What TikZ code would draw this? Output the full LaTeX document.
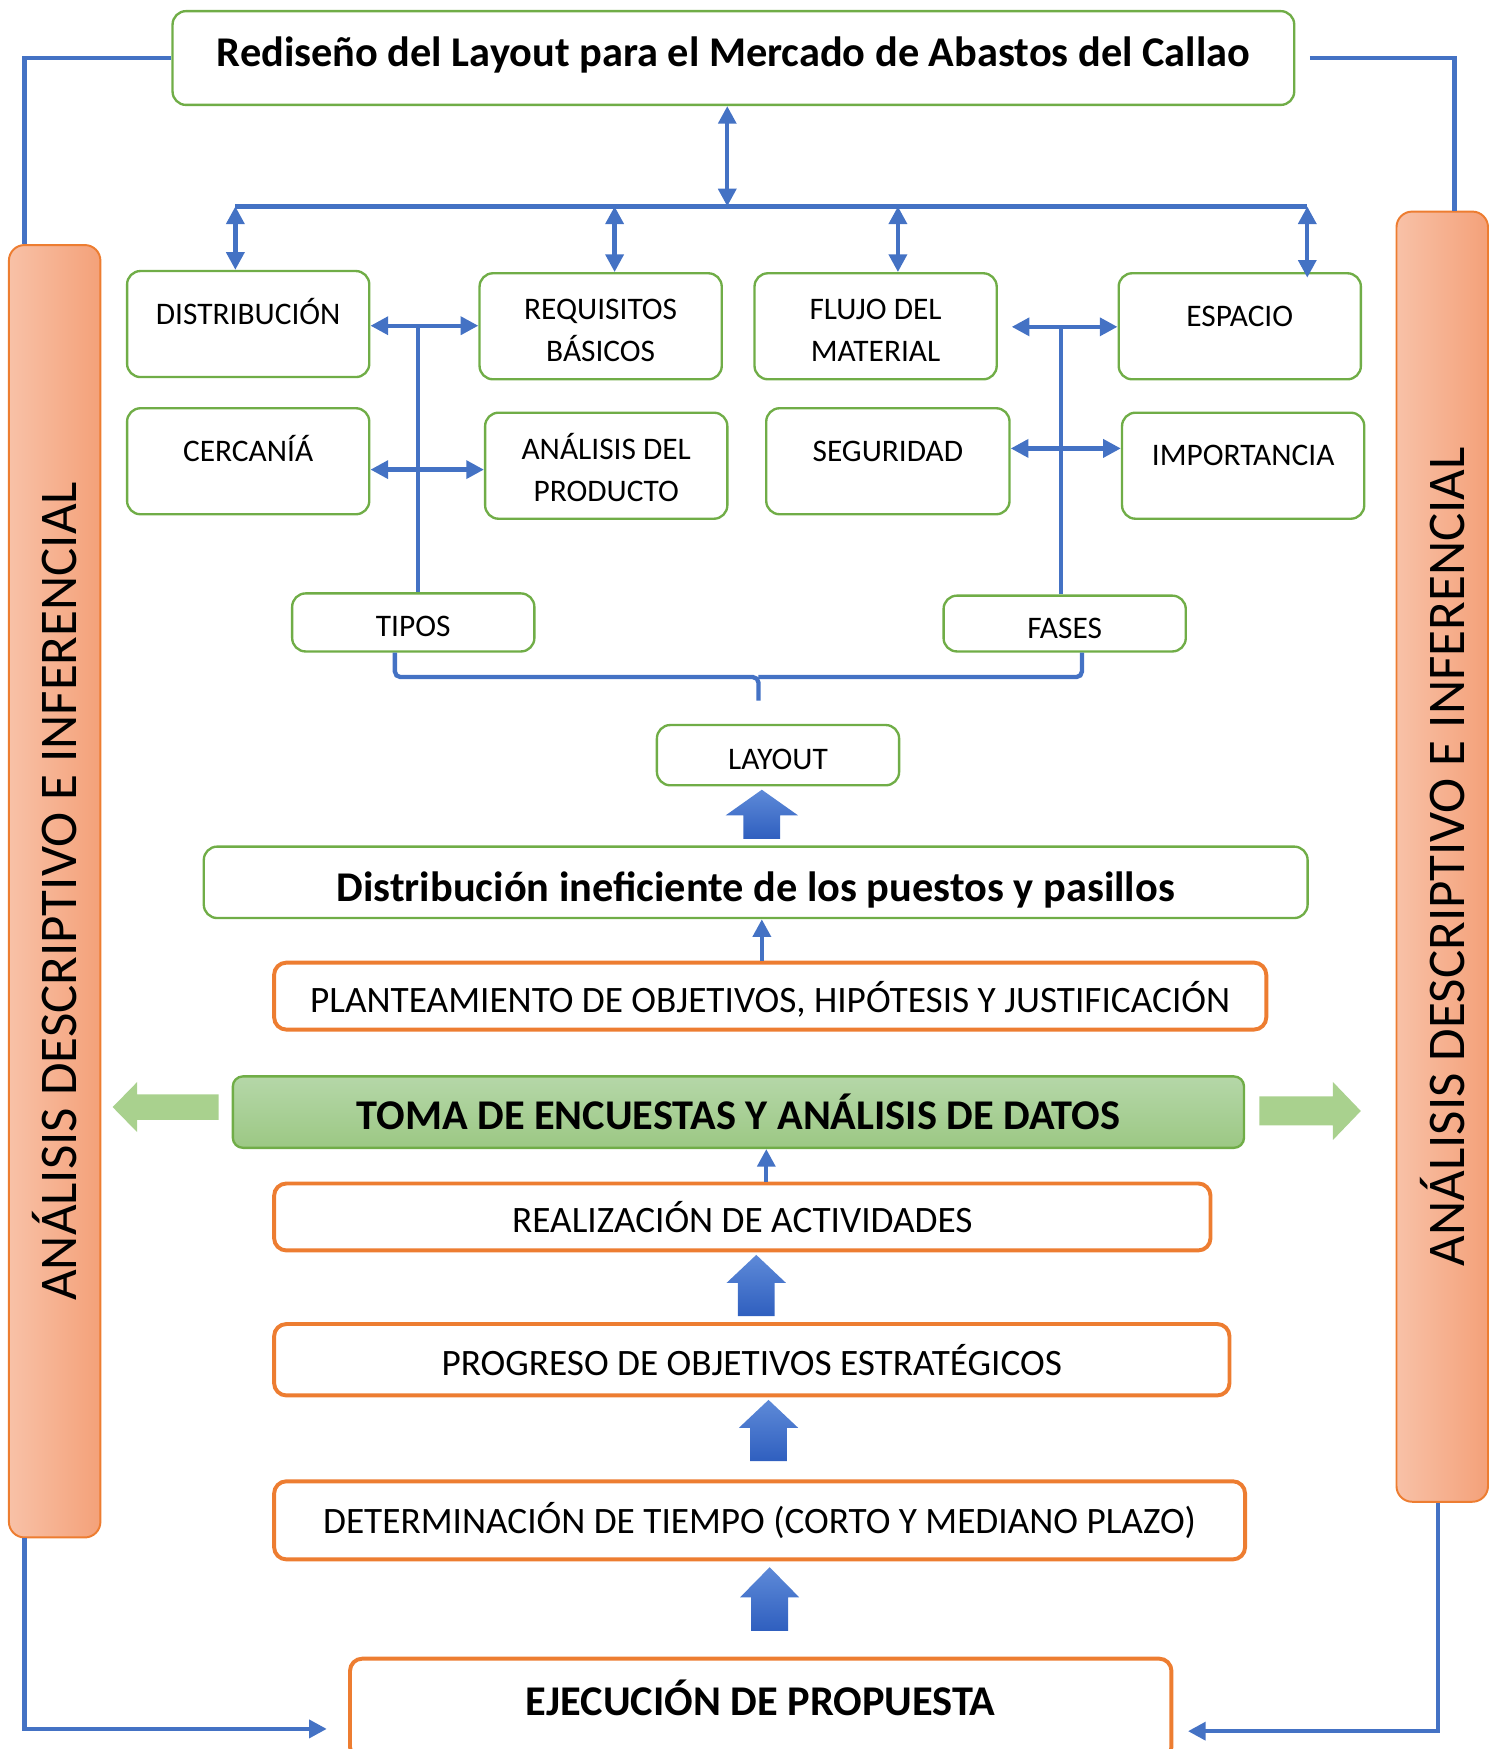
\documentclass[tikz,border=0pt]{standalone}
\usepackage{fontspec}
\setmainfont{Carlito}
\usetikzlibrary{arrows.meta}

\definecolor{grnline}{HTML}{70AD47}
\definecolor{orgline}{HTML}{ED7D31}
\definecolor{blueln}{HTML}{4472C4}
\definecolor{barL}{HTML}{F8C1A7}
\definecolor{barR}{HTML}{F4A179}
\definecolor{tomaT}{HTML}{B5D7A8}
\definecolor{tomaB}{HTML}{9CC884}
\definecolor{grnarr}{HTML}{A9D18E}
\definecolor{blkT}{HTML}{5E8AD8}
\definecolor{blkB}{HTML}{2F5FBF}

\begin{document}
\begin{tikzpicture}[x=0.01cm, y=-0.01cm,
    gbox/.style={draw=grnline, line width=0.6pt, rounded corners=0.12cm, align=center, minimum width=2.17cm, minimum height=0.95cm, font=\fontsize{8}{10.8}\selectfont},
    onel/.style={text height=5pt, text depth=5pt},
    twol/.style={text height=18.2pt, text depth=0pt},
    lowt/.style={text height=7.4pt, text depth=0pt},
    obox/.style={draw=orgline, line width=1pt, rounded corners=0.11cm, minimum height=0.6cm, font=\fontsize{9.5}{12}\selectfont},
    sidebar/.style={draw=orgline, line width=0.5pt, rounded corners=0.14cm, left color=barL, right color=barR, minimum width=0.82cm, font=\fontsize{13.5}{16}\selectfont},
    link/.style={draw=blueln, line width=1.1pt},
    dbl/.style={link, {Triangle[length=4.5pt,width=4.5pt]}-{Triangle[length=4.5pt,width=4.5pt]}},
    sarr/.style={link, -{Triangle[length=4.5pt,width=4.5pt]}},
    blk/.style={top color=blkT, bottom color=blkB},
    garr/.style={fill=grnarr}
]
    \useasboundingbox (0,0) rectangle (1346,1568);

    % title and feedback frame
    \node[gbox, minimum width=10.05cm, minimum height=0.84cm, text height=7pt, text depth=2.7pt, font=\fontsize{10.8}{13}\selectfont\bfseries] (title) at (657.5,52) {Rediseño del Layout para el Mercado de Abastos del Callao};

    \node[sidebar, minimum height=11.58cm] (lbar) at (49,799) {\rotatebox{90}{ANÁLISIS DESCRIPTIVO E INFERENCIAL}};
    \node[sidebar, minimum height=11.56cm] (rbar) at (1293,768) {\rotatebox{90}{ANÁLISIS DESCRIPTIVO E INFERENCIAL}};

    % upper boxes
    \node[gbox, onel] (dist) at (222.5,290.5) {DISTRIBUCIÓN};
    \node[gbox, twol] (req) at (538.5,292.5) {REQUISITOS\\BÁSICOS};
    \node[gbox, twol] (flujo) at (785,292.5) {FLUJO DEL\\MATERIAL};
    \node[gbox, onel] (esp) at (1111.5,292.5) {ESPACIO};
    \node[gbox, onel] (cerc) at (222.5,413.5) {CERCANÍÁ};
    \node[gbox, twol] (anal) at (543.5,417.5) {ANÁLISIS DEL\\PRODUCTO};
    \node[gbox, onel, minimum width=2.18cm] (seg) at (796,413.5) {SEGURIDAD};
    \node[gbox, onel] (imp) at (1114.5,417.5) {IMPORTANCIA};

    \node[gbox, lowt, minimum height=0.52cm] (tipos) at (370.5,558) {TIPOS};
    \node[gbox, lowt, minimum height=0.50cm] (fases) at (954.5,559) {FASES};
    \node[gbox, lowt, minimum height=0.54cm] (layout) at (697.5,677) {LAYOUT};

    % main column
    \node[gbox, minimum width=9.89cm, minimum height=0.64cm, text height=10pt, text depth=0pt, font=\fontsize{10.8}{13}\selectfont\bfseries] (dist2) at (677.5,791) {Distribución ineficiente de los puestos y pasillos};
    \node[obox, minimum width=8.89cm, text height=8.4pt, text depth=0pt] (plan) at (690.5,893) {PLANTEAMIENTO DE OBJETIVOS, HIPÓTESIS Y JUSTIFICACIÓN};
    \node[draw=grnline, line width=0.6pt, rounded corners=0.09cm, top color=tomaT, bottom color=tomaB, minimum width=9.06cm, minimum height=0.64cm, font=\fontsize{10.8}{13}\selectfont\bfseries] (toma) at (662,997) {TOMA DE ENCUESTAS Y ANÁLISIS DE DATOS};
    \node[obox, minimum width=8.39cm] (real) at (665.5,1091) {REALIZACIÓN DE ACTIVIDADES};
    \node[obox, minimum width=8.56cm, minimum height=0.64cm] (prog) at (674,1219) {PROGRESO DE OBJETIVOS ESTRATÉGICOS};
    \node[obox, minimum width=8.70cm, minimum height=0.70cm] (det) at (681,1363) {DETERMINACIÓN DE TIEMPO (CORTO Y MEDIANO PLAZO)};
    \node[obox, minimum width=7.36cm, minimum height=0.90cm, text height=7pt, text depth=3.4pt, font=\fontsize{10.8}{13}\selectfont\bfseries] (ejec) at (682,1532) {EJECUCIÓN DE PROPUESTA};

    % bus under the title
    \coordinate (bus0) at (652,185);
    \coordinate (b1) at (211,185);
    \coordinate (b2) at (551,185);
    \coordinate (b3) at (805,185);
    \coordinate (b4) at (1172,185);
    \draw[link] (b1) -- (b4);
    \draw[dbl] (title.south -| bus0) -- (bus0);
    \draw[dbl] (b1) -- (b1 |- dist.north);
    \draw[dbl] (b2) -- (b2 |- req.north);
    \draw[dbl] (b3) -- (b3 |- flujo.north);
    \draw[dbl] (b4) -- ([yshift=-0.05cm]b4 |- esp.north);

    % tipos and fases links
    \coordinate (tj) at (375,292);
    \coordinate (tk) at (375,421);
    \coordinate (fj) at (951,293);
    \coordinate (fk) at (951,402);
    \coordinate (fa) at (907,293);
    \draw[dbl] (dist.east |- tj) -- (req.west |- tj);
    \draw[dbl] (cerc.east |- tk) -- (anal.west |- tk);
    \draw[link] (tipos.north -| tj) -- (tj);
    \draw[dbl] (fa) -- (esp.west |- fj);
    \draw[dbl] (seg.east |- fk) -- (imp.west |- fk);
    \draw[link] (fases.north -| fj) -- (fj);

    % brace towards layout
    \coordinate (bl) at (354,0);
    \coordinate (br) at (970,0);
    \coordinate (bc) at (680,607);
    \coordinate (bt) at (680,628);
    \draw[link, rounded corners=0.05cm] (bl |- tipos.south) |- (bc) -- (bt);
    \draw[link, rounded corners=0.05cm] (br |- fases.south) |- (bc);

    % block arrows
    \shade[blk] (666.5,752) -- (666.5,731) -- (650.5,731) -- (683,708) -- (715.5,731) -- (699.5,731) -- (699.5,752) -- cycle;
    \shade[blk] (661.5,1180) -- (661.5,1150) -- (651.5,1150) -- (678,1125) -- (704.5,1150) -- (694.5,1150) -- (694.5,1180) -- cycle;
    \shade[blk] (672.5,1310) -- (672.5,1280) -- (662.5,1280) -- (689,1255) -- (715.5,1280) -- (705.5,1280) -- (705.5,1310) -- cycle;
    \shade[blk] (673.5,1462) -- (673.5,1432) -- (663.5,1432) -- (690,1405) -- (716.5,1432) -- (706.5,1432) -- (706.5,1462) -- cycle;

    \fill[garr] (196,981) -- (123,981) -- (123,970) -- (101,992.5) -- (123,1015) -- (123,1004) -- (196,1004) -- cycle;
    \fill[garr] (1129,983) -- (1195,983) -- (1195,970) -- (1220,996) -- (1195,1022) -- (1195,1009) -- (1129,1009) -- cycle;

    % thin arrows
    \coordinate (ua) at (683,0);
    \coordinate (ub) at (687,0);
    \draw[sarr] (ua |- plan.north) -- (ua |- dist2.south);
    \draw[sarr] (ub |- real.north) -- (ub |- toma.south);

    % feedback lines
    \coordinate (lx) at (22,0);
    \coordinate (rx) at (1304,0);
    \coordinate (rx2) at (1289,0);
    \coordinate (lend) at (293,1550);
    \coordinate (rend) at (1065,1552);
    \draw[link] (title.west) -| (lx |- lbar.north);
    \draw[link] ([xshift=0.13cm]title.east) -| (rx |- rbar.north);
    \draw[sarr] (lx |- lbar.south) |- (lend);
    \draw[sarr] (rx2 |- rbar.south) |- (rend);
\end{tikzpicture}
\end{document}
